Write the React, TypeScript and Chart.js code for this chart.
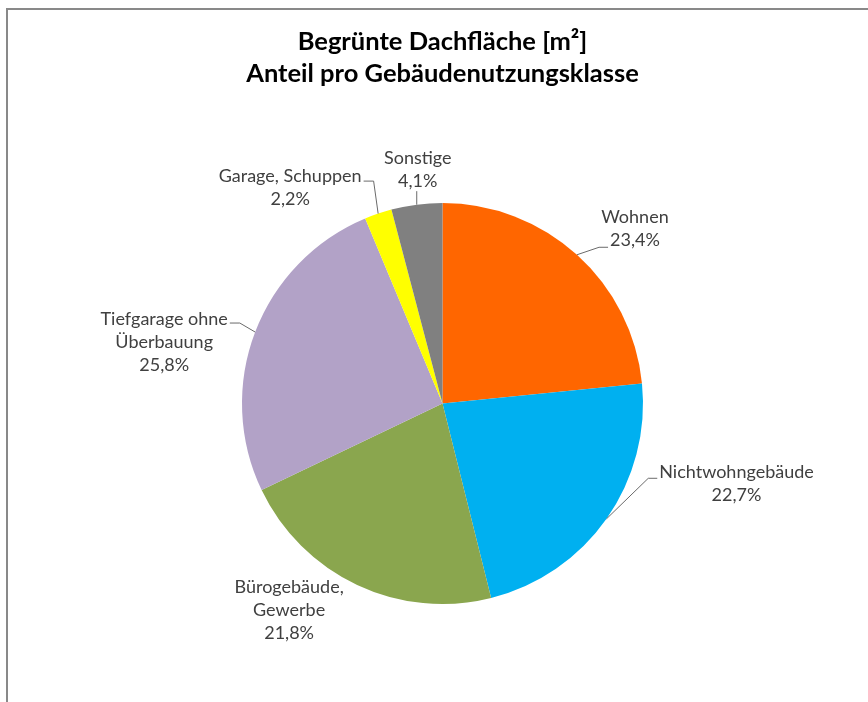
import React, { useEffect, useRef } from "react";
import { Chart, registerables } from "chart.js";

Chart.register(...registerables);

const titleLines = ["Begrünte Dachfläche [m²]", "Anteil pro Gebäudenutzungsklasse"];
const categories = [
  "Wohnen",
  "Nichtwohngebäude",
  "Bürogebäude, Gewerbe",
  "Tiefgarage ohne Überbauung",
  "Garage, Schuppen",
  "Sonstige",
];
const categoryLines = [
  ["Wohnen"],
  ["Nichtwohngebäude"],
  ["Bürogebäude,", "Gewerbe"],
  ["Tiefgarage ohne", "Überbauung"],
  ["Garage, Schuppen"],
  ["Sonstige"],
];
const shares = [23.4, 22.7, 21.8, 25.8, 2.2, 4.1];
const colors = ["#FF6600", "#00B0F0", "#8AA64E", "#B2A2C7", "#FFFF00", "#808080"];

// label placement relative to the slice's outer mid-point (styling only)
const labelPlacement = [
  { dx: 58, dy: -26, leader: "left", line: 1, dyAttach: 7 },
  { dx: 130, dy: -35, leader: "left", line: 0, dyAttach: 6 },
  { dx: -68, dy: 25, leader: "none", line: 0, dyAttach: 0 },
  { dx: -91, dy: 10, leader: "right", line: 0, dyAttach: 4 },
  { dx: -88, dy: -26, leader: "right", line: 0, dyAttach: 5 },
  { dx: 1, dy: -35, leader: "bottom", line: 0, dyAttach: 0 },
];

const LABEL_FONT = "18px Lato";
const LINE_H = 23;

const fmtPct = (v: number) => v.toFixed(1).replace(".", ",") + "%";

const outsideLabels = {
  id: "outsideLabels",
  afterDatasetsDraw(chart: any) {
    const ctx: CanvasRenderingContext2D = chart.ctx;
    const meta = chart.getDatasetMeta(0);
    const ds = chart.data.datasets[0];
    ctx.save();
    ctx.font = LABEL_FONT;
    ctx.textAlign = "center";
    ctx.textBaseline = "middle";
    meta.data.forEach((arc: any, i: number) => {
      const p = arc.getProps(["x", "y", "startAngle", "endAngle", "outerRadius"], true);
      const mid = (p.startAngle + p.endAngle) / 2;
      const ex = p.x + Math.cos(mid) * p.outerRadius;
      const ey = p.y + Math.sin(mid) * p.outerRadius;
      const pl = labelPlacement[i];
      const lines = [...categoryLines[i], fmtPct(ds.data[i])];
      const cx = ex + pl.dx;
      const cy = ey + pl.dy;
      const y0 = cy - ((lines.length - 1) * LINE_H) / 2;
      ctx.fillStyle = "#404040";
      lines.forEach((t, k) => ctx.fillText(t, cx, y0 + k * LINE_H));

      if (pl.leader !== "none") {
        ctx.strokeStyle = "#6a6a6a";
        ctx.lineWidth = 1;
        ctx.beginPath();
        ctx.moveTo(ex, ey);
        if (pl.leader === "bottom") {
          const by = y0 + (lines.length - 1) * LINE_H + 10;
          ctx.lineTo(ex, by);
        } else {
          const w = ctx.measureText(lines[pl.line]).width;
          const ly = y0 + pl.line * LINE_H + pl.dyAttach;
          if (pl.leader === "left") {
            const ax = cx - w / 2 - 2;
            ctx.lineTo(ax - 9, ly);
            ctx.lineTo(ax, ly);
          } else {
            const ax = cx + w / 2 + 2;
            ctx.lineTo(ax + 10, ly);
            ctx.lineTo(ax, ly);
          }
        }
        ctx.stroke();
      }
    });
    ctx.restore();
  },
};

export default function App() {
  const ref = useRef<HTMLCanvasElement | null>(null);
  useEffect(() => {
    if (!ref.current) return;
    const chart = new Chart(ref.current, {
      type: "pie",
      data: {
        labels: categories,
        datasets: [
          {
            data: shares,
            backgroundColor: colors,
            borderWidth: 0,
          },
        ],
      },
      options: {
        responsive: false,
        animation: false,
        devicePixelRatio: 1,
        layout: { padding: { left: 242, right: 225, top: 0, bottom: 98 } },
        plugins: {
          legend: { display: false },
          tooltip: { enabled: false },
          title: {
            display: true,
            text: titleLines,
            color: "#000000",
            font: { family: "Lato", size: 25.5, weight: "bold", lineHeight: 32 / 25.5 },
            padding: { top: 26, bottom: 113 },
          },
        },
      },
      plugins: [outsideLabels],
    });
    return () => chart.destroy();
  }, []);

  return (
    <div style={{ position: "fixed", left: 0, top: 0, width: 868, height: 702, overflow: "hidden", background: "#fff" }}>
      <div
        style={{
          position: "absolute",
          left: 6,
          top: 8,
          width: 1000,
          height: 1000,
          border: "2px solid #898989",
          boxSizing: "border-box",
        }}
      />
      <canvas ref={ref} width={868} height={702} style={{ position: "absolute", left: 0, top: 0 }} />
    </div>
  );
}
